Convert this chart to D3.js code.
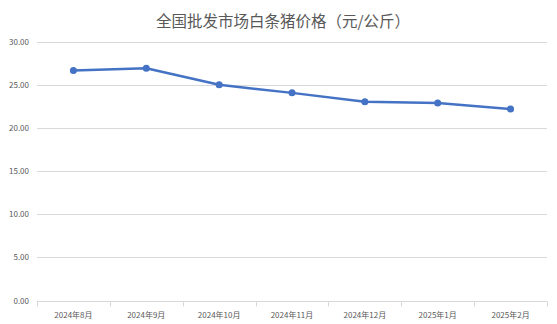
<!DOCTYPE html>
<html>
<head>
<meta charset="utf-8">
<script src="https://cdn.jsdelivr.net/npm/d3@7"></script>
<style>
  html, body { margin: 0; padding: 0; background: #fff; }
  svg { display: block; font-family: "Noto Sans CJK SC", "Microsoft YaHei", sans-serif; }
</style>
</head>
<body>
<svg id="chart" width="557" height="324"></svg>
<script>
// Monthly wholesale white-stripe pork price (yuan / kg)
const months = ["2024年8月", "2024年9月", "2024年10月", "2024年11月", "2024年12月", "2025年1月", "2025年2月"];
const prices = [26.65, 26.9, 24.98, 24.05, 23.02, 22.88, 22.18];
const yTicks = [0, 5, 10, 15, 20, 25, 30];
const title = "全国批发市场白条猪价格（元/公斤）";

const svg = d3.select("#chart");
const margin = { top: 41.5, right: 10, bottom: 23.5, left: 37 };
const W = 557, H = 324;

const x = d3.scaleBand().domain(months).range([margin.left, W - margin.right]);
const y = d3.scaleLinear().domain([0, 30]).range([H - margin.bottom, margin.top]);

const textColor = "#595959";
const gridColor = "#d9d9d9";

// Title
svg.append("text")
  .attr("x", 283)
  .attr("y", 26.5)
  .attr("text-anchor", "middle")
  .attr("font-size", 15.5)
  .attr("fill", textColor)
  .text(title);

// Horizontal gridlines
svg.append("g")
  .selectAll("line")
  .data(yTicks.filter(d => d > 0))
  .join("line")
  .attr("x1", margin.left)
  .attr("x2", W - margin.right)
  .attr("y1", d => Math.round(y(d)) + 0.5)
  .attr("y2", d => Math.round(y(d)) + 0.5)
  .attr("stroke", gridColor)
  .attr("stroke-width", 1);

// Y axis labels
const yAxis = d3.axisLeft(y).tickValues(yTicks).tickFormat(d3.format(".2f")).tickSize(0).tickPadding(8);
const gy = svg.append("g").attr("transform", `translate(${margin.left},0)`).call(yAxis);
gy.select(".domain").remove();
gy.selectAll("text").attr("fill", textColor).attr("font-size", 8)
  .attr("font-family", "'Noto Sans CJK SC', sans-serif");

// X axis with category boundary ticks
const baseY = Math.round(y(0)) + 0.5;
const gx = svg.append("g");
gx.append("line")
  .attr("x1", margin.left).attr("x2", W - margin.right)
  .attr("y1", baseY).attr("y2", baseY)
  .attr("stroke", gridColor);
const boundaries = months.map(m => x(m)).concat([x(months[months.length - 1]) + x.bandwidth()]);
gx.selectAll(".tk")
  .data(boundaries)
  .join("line")
  .attr("class", "tk")
  .attr("x1", d => Math.round(d) + 0.5).attr("x2", d => Math.round(d) + 0.5)
  .attr("y1", baseY).attr("y2", baseY + 5)
  .attr("stroke", gridColor);
gx.selectAll(".lbl")
  .data(months)
  .join("text")
  .attr("class", "lbl")
  .attr("x", d => x(d) + x.bandwidth() / 2)
  .attr("y", baseY + 16)
  .attr("text-anchor", "middle")
  .attr("font-size", 8)
  .attr("fill", textColor)
  .text(d => d);

// Price line and markers
const cx = d => x(d) + x.bandwidth() / 2;
const line = d3.line().x((d, i) => cx(months[i])).y(d => y(d));
svg.append("path")
  .datum(prices)
  .attr("d", line)
  .attr("fill", "none")
  .attr("stroke", "#4472C4")
  .attr("stroke-width", 2.5)
  .attr("stroke-linejoin", "round");

svg.append("g")
  .selectAll("circle")
  .data(prices)
  .join("circle")
  .attr("cx", (d, i) => cx(months[i]))
  .attr("cy", d => y(d))
  .attr("r", 3.5)
  .attr("fill", "#4472C4");
</script>
</body>
</html>
